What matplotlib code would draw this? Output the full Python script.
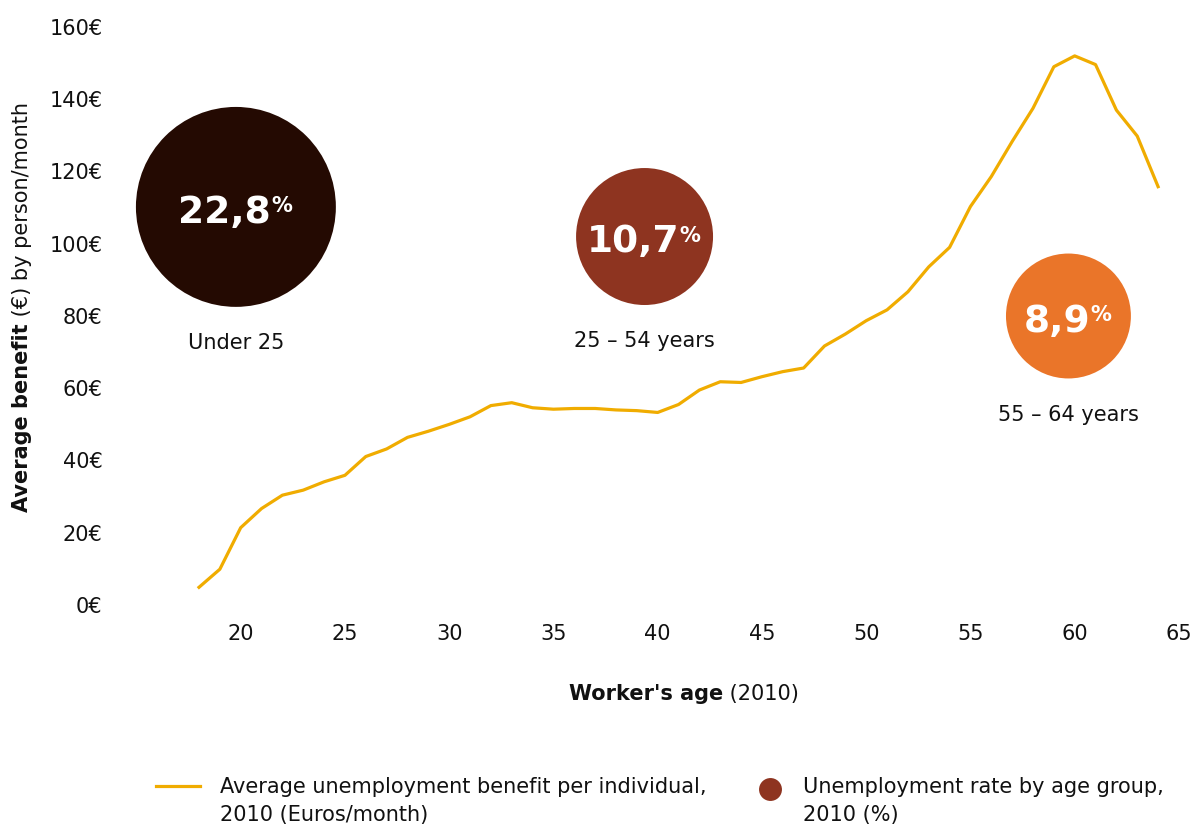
import numpy as np
import matplotlib
matplotlib.use("Agg")
import matplotlib.pyplot as plt
from matplotlib.lines import Line2D

plt.rcParams['font.family'] = ['DejaVu Sans']

# ---------------- data ----------------
ages = list(range(18, 65))
benefit = [4.9, 9.9, 21.4, 26.7, 30.4, 31.8, 34.1, 35.9, 41.1, 43.2,
           46.4, 48.1, 50.0, 52.1, 55.2, 56.0, 54.6, 54.2, 54.4, 54.4,
           54.0, 53.8, 53.3, 55.5, 59.5, 61.8, 61.6, 63.2, 64.6, 65.6,
           71.7, 75.0, 78.7, 81.7, 86.7, 93.6, 99.0, 110.3, 118.6, 128.3,
           137.5, 149.0, 152.0, 149.6, 137.0, 129.8, 115.8]

groups = ["Under 25", "25 – 54 years", "55 – 64 years"]
rates = [22.8, 10.7, 8.9]
rate_labels = ["22,8", "10,7", "8,9"]

x_ticks = [20, 25, 30, 35, 40, 45, 50, 55, 60, 65]
y_ticks = [0, 20, 40, 60, 80, 100, 120, 140, 160]
y_tick_labels = ["0€", "20€", "40€", "60€", "80€", "100€", "120€", "140€", "160€"]

legend_labels = [["Average unemployment benefit per individual,", "2010 (Euros/month)"],
                 ["Unemployment rate by age group,", "2010 (%)"]]

# ---------------- layout / style ----------------
bubble_x = [19.77, 39.37, 59.70]
bubble_y = [110.2, 102.0, 80.0]
bubble_colors = ["#240a02", "#8e3420", "#ea7529"]
line_color = "#f0ac00"
text_color = "#111111"

W, H = 1200, 825
def fx(px):
    return px / W
def fy(py):
    return 1 - py / H

fig = plt.figure(figsize=(12, 8.25), dpi=100)
ax = fig.add_axes([fx(111), fy(605), (1195 - 111) / W, (605 - 27) / H])
ax.set_xlim(13.78, 65.77)
ax.set_ylim(0, 160)

ax.plot(ages, benefit, color=line_color, lw=2.3, zorder=2)

sizes = [r * 909 for r in rates]
ax.scatter(bubble_x, bubble_y, s=sizes, c=bubble_colors, linewidths=0,
           zorder=3, clip_on=False)

for bx, by, s, lab, grp in zip(bubble_x, bubble_y, sizes, rate_labels, groups):
    r_pt = np.sqrt(s) / 2
    t = ax.annotate(lab, xy=(bx, by), xytext=(-8, -11.5), textcoords='offset points',
                    ha='center', va='baseline', color='white', fontsize=27,
                    fontweight='bold', zorder=4)
    ax.annotate('%', xy=(1, 1), xycoords=t, xytext=(0, -1), textcoords='offset points',
                ha='left', va='top', color='white', fontsize=15, fontweight='bold', zorder=4)
    ax.annotate(grp, xy=(bx, by), xytext=(0, -(r_pt + 26)), textcoords='offset points',
                ha='center', va='center', color=text_color, fontsize=15)

for sp in ax.spines.values():
    sp.set_visible(False)
ax.set_xticks(x_ticks)
ax.set_xticklabels([str(v) for v in x_ticks])
ax.set_yticks(y_ticks)
ax.set_yticklabels(y_tick_labels)
ax.tick_params(axis='both', length=0, labelsize=15, colors=text_color)
ax.tick_params(axis='x', pad=14)
ax.tick_params(axis='y', pad=6)

# x label
t1 = fig.text(fx(569), fy(694), "Worker's age", ha='left', va='center',
              fontsize=15, fontweight='bold', color=text_color)
ax.annotate(" (2010)", xy=(1, 0.5), xycoords=t1, ha='left', va='center',
            fontsize=15, color=text_color, annotation_clip=False)

# y label
ty = fig.text(fx(22), fy(512), "Average benefit", rotation=90, ha='center', va='bottom',
              fontsize=15, fontweight='bold', color=text_color)
ax.annotate(" (€) by person/month", xy=(0.5, 1), xycoords=ty, rotation=90,
            ha='center', va='bottom', fontsize=15, color=text_color, annotation_clip=False)

# legend (manual)
fig.add_artist(Line2D([fx(156), fx(200)], [fy(786), fy(786)], color=line_color, lw=2.3))
fig.text(fx(220), fy(787), legend_labels[0][0], ha='left', va='center', fontsize=15, color=text_color)
fig.text(fx(220), fy(815), legend_labels[0][1], ha='left', va='center', fontsize=15, color=text_color)
fig.add_artist(Line2D([fx(770)], [fy(789)], marker='o', markersize=16.5, ls='none',
                      color=bubble_colors[1], markeredgewidth=0))
fig.text(fx(803), fy(787), legend_labels[1][0], ha='left', va='center', fontsize=15, color=text_color)
fig.text(fx(803), fy(815), legend_labels[1][1], ha='left', va='center', fontsize=15, color=text_color)

fig.savefig("out.png", dpi=100, facecolor='white')
